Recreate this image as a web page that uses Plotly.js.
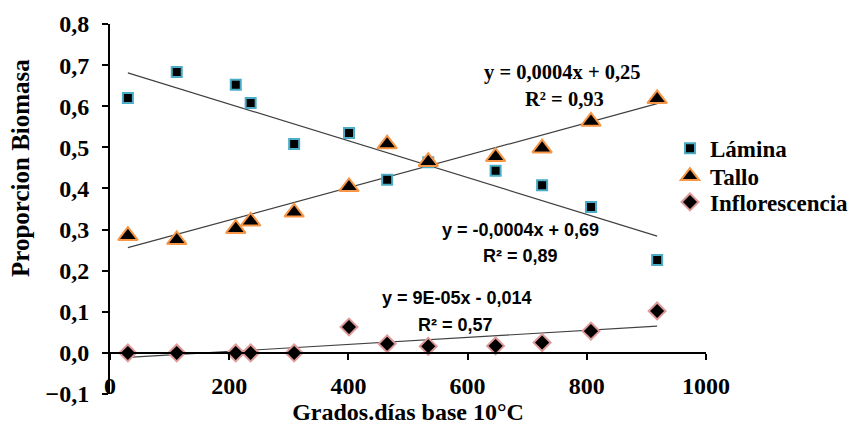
<!DOCTYPE html>
<html>
<head>
<meta charset="utf-8">
<script src="https://cdn.plot.ly/plotly-3.0.1.min.js"></script>
<style>html,body{margin:0;padding:0;background:#fff;}#chart{width:867px;height:430px;}</style>
</head>
<body>
<div id="chart"></div>
<script>
// Grados.días base 10°C
var gradosDias = [30, 112, 211, 236, 309, 401, 465, 534, 647, 725, 807, 918];
var lamina = [0.620, 0.683, 0.652, 0.608, 0.508, 0.535, 0.421, 0.464, 0.443, 0.408, 0.355, 0.226];
var tallo = [0.285, 0.275, 0.302, 0.320, 0.342, 0.404, 0.508, 0.465, 0.477, 0.498, 0.563, 0.618];
var inflorescencia = [0.000, 0.000, 0.000, 0.000, 0.000, 0.063, 0.022, 0.016, 0.017, 0.025, 0.053, 0.102];
var seriesNames = ["Lámina", "Tallo", "Inflorescencia"];
var eqTallo = ["y = 0,0004x + 0,25", "R² = 0,93"];
var eqLamina = ["y = -0,0004x + 0,69", "R² = 0,89"];
var eqInflo = ["y = 9E-05x - 0,014", "R² = 0,57"];
var xTitle = "Grados.días base 10°C";
var yTitle = "Proporcion Biomasa";

function fit(xs, ys) {
  var n = xs.length, sx = 0, sy = 0, sxx = 0, sxy = 0;
  for (var i = 0; i < n; i++) { sx += xs[i]; sy += ys[i]; sxx += xs[i]*xs[i]; sxy += xs[i]*ys[i]; }
  var b = (n*sxy - sx*sy) / (n*sxx - sx*sx);
  var a = (sy - b*sx) / n;
  var x0 = Math.min.apply(null, xs), x1 = Math.max.apply(null, xs);
  return {x: [x0, x1], y: [a + b*x0, a + b*x1]};
}

var serif = "Liberation Serif, Times New Roman, serif";
var sans = "Liberation Sans, Arial, sans-serif";
var lineStyle = {color: "#404040", width: 1.2};

var fL = fit(gradosDias, lamina), fT = fit(gradosDias, tallo), fI = fit(gradosDias, inflorescencia);

var traces = [
  {x: fL.x, y: fL.y, mode: "lines", line: lineStyle, showlegend: false, hoverinfo: "skip"},
  {x: fT.x, y: fT.y, mode: "lines", line: lineStyle, showlegend: false, hoverinfo: "skip"},
  {x: fI.x, y: fI.y, mode: "lines", line: lineStyle, showlegend: false, hoverinfo: "skip"},
  {x: gradosDias, y: lamina, name: seriesNames[0], mode: "markers", type: "scatter", legend: "legend",
   marker: {symbol: "square", size: 10, color: "#000", line: {color: "#4BACC6", width: 2}}},
  {x: gradosDias, y: tallo, name: seriesNames[1], mode: "markers", type: "scatter", legend: "legend2",
   marker: {symbol: "triangle-up", size: 17, color: "#000", line: {color: "#F79646", width: 2}}},
  {x: gradosDias, y: inflorescencia, name: seriesNames[2], mode: "markers", type: "scatter", legend: "legend3",
   marker: {symbol: "diamond", size: 13, color: "#000", line: {color: "#DE9A99", width: 2}}}
];

function ann(x, y, text, font, size) {
  return {x: x, y: y, xref: "x", yref: "y", text: "<b>" + text + "</b>", showarrow: false,
          font: {family: font, size: size, color: "#000"}, xanchor: "center", yanchor: "middle"};
}

var legFont = {family: serif, size: 23, color: "#000", weight: "bold"};
function leg(y) {
  return {x: 0.9396, xanchor: "left", y: y, yanchor: "middle",
          font: legFont, bgcolor: "rgba(0,0,0,0)", borderwidth: 0};
}

var tickFont = {family: serif, size: 24, color: "#000", weight: "bold"};

var layout = {
  width: 867, height: 430,
  margin: {l: 110, r: 161, t: 24, b: 36},
  paper_bgcolor: "#fff", plot_bgcolor: "#fff",
  separators: ",.",
  showlegend: true,
  legend: leg(0.664),
  legend2: leg(0.589),
  legend3: leg(0.519),
  xaxis: {range: [0, 1000], tickvals: [0, 200, 400, 600, 800, 1000], tickformat: "d",
          showgrid: false, zeroline: false, showline: true, linecolor: "#000", linewidth: 2,
          ticks: "outside", ticklen: 6, tickwidth: 2, tickcolor: "#000",
          anchor: "free", position: 0.1111, ticklabelstandoff: 5,
          tickfont: tickFont,
          title: {text: "<b>" + xTitle + "</b>", font: {family: serif, size: 24, color: "#000"}, standoff: 0}},
  yaxis: {range: [-0.1, 0.8], dtick: 0.1, tick0: 0, tickformat: ".1f",
          showgrid: false, zeroline: false, showline: true, linecolor: "#000", linewidth: 2,
          ticks: "outside", ticklen: 6, tickwidth: 2, tickcolor: "#000", ticklabelstandoff: 8,
          tickfont: tickFont},
  annotations: [
    {x: 0, y: 0, xref: "paper", yref: "paper", text: "<b>" + yTitle + "</b>", textangle: -90, showarrow: false,
     font: {family: serif, size: 25, color: "#000"}, xanchor: "center", yanchor: "middle"},
    ann(760, 0.683, eqTallo[0], serif, 20.5),
    ann(762, 0.618, eqTallo[1], serif, 20.5),
    ann(688, 0.299, eqLamina[0], sans, 18),
    ann(688, 0.236, eqLamina[1], sans, 18),
    ann(582, 0.134, eqInflo[0], sans, 18),
    ann(580, 0.068, eqInflo[1], sans, 18)
  ]
};
// y-title annotation placed in pixel terms converted to paper coordinates
var plotW = 867 - 110 - 161, plotH = 430 - 24 - 36;
layout.annotations[0].x = (20 - 110) / plotW;
layout.annotations[0].y = (430 - 36 - 168) / plotH;

Plotly.newPlot("chart", traces, layout, {displayModeBar: false, staticPlot: true});
</script>
</body>
</html>
